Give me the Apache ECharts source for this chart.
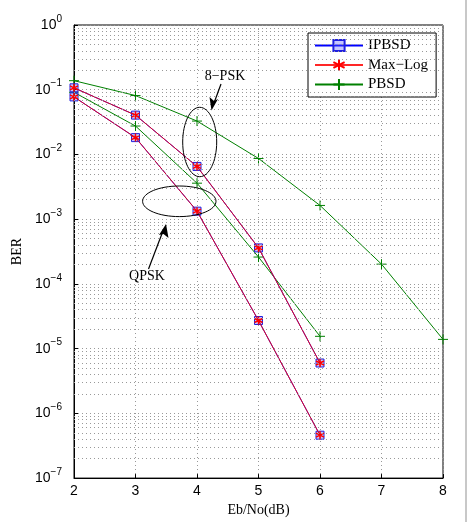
<!DOCTYPE html>
<html>
<head>
<meta charset="utf-8">
<script src="https://cdn.jsdelivr.net/npm/echarts@6/dist/echarts.min.js"></script>
<style>
  html, body { margin: 0; padding: 0; background: #fff; }
  #main { width: 470px; height: 522px; }
</style>
</head>
<body>
<div id="main"></div>
<script>
// Eb/No points (dB)
var snrShort = [2, 3, 4, 5, 6];
var snrLong = [2, 3, 4, 5, 6, 7, 8];

// BER
var ipbsd8psk = [0.107, 0.0405, 0.00653, 3.6e-4, 6.0e-6];
var ipbsdQpsk = [0.0775, 0.0182, 1.33e-3, 2.72e-5, 4.6e-7];
var maxlog8psk = [0.107, 0.0405, 0.00653, 3.6e-4, 6.0e-6];
var maxlogQpsk = [0.0775, 0.0182, 1.33e-3, 2.72e-5, 4.6e-7];
var pbsd8psk = [0.138, 0.0813, 0.0328, 8.67e-3, 1.63e-3, 2.02e-4, 1.39e-5];
var pbsdQpsk = [0.0914, 0.0275, 3.6e-3, 2.6e-4, 1.55e-5];

var seriesNames = ['IPBSD', 'Max\u2212Log', 'PBSD'];
var yDecades = [-7, -6, -5, -4, -3, -2, -1];
var minorSteps = [2, 3, 4, 5, 6, 7, 8, 9];

var serif = 'Liberation Serif';
var sans = 'Liberation Sans';
var asterisk = 'path://M0,-5L0,5M-4.5,-2.5L4.5,2.5M-4.5,2.5L4.5,-2.5';
var plus = 'path://M0,-5L0,5M-5,0L5,0';
var dots = { color: '#999', type: [1, 3], width: 1 };

function pairs(xs, ys) {
    var out = [];
    for (var i = 0; i < ys.length; i++) {
        out.push([xs[i], ys[i]]);
    }
    return out;
}

// minor log grid (2..9 in each decade), drawn from x=2 to x=8
var minorLines = [];
for (var d = 0; d < yDecades.length; d++) {
    for (var k = 0; k < minorSteps.length; k++) {
        var v = minorSteps[k] * Math.pow(10, yDecades[d]);
        minorLines.push([{ coord: [2, v] }, { coord: [8, v] }]);
    }
}

function ipbsdSeries(data) {
    return {
        name: seriesNames[0], type: 'line', data: data, z: 3,
        symbol: 'rect', symbolSize: 8,
        lineStyle: { color: '#0000ff', width: 1 },
        itemStyle: { color: 'rgba(90,90,255,0.35)', borderColor: '#2020e0', borderWidth: 1 }
    };
}
function maxlogSeries(data) {
    return {
        name: seriesNames[1], type: 'line', data: data, z: 4,
        symbol: asterisk, symbolSize: 8,
        lineStyle: { color: '#ff0000', width: 1, opacity: 0.85 },
        itemStyle: { color: '#ff0000', borderColor: '#ff0000', borderWidth: 1.5 }
    };
}
function pbsdSeries(data) {
    return {
        name: seriesNames[2], type: 'line', data: data, z: 2,
        symbol: plus, symbolSize: 10,
        lineStyle: { color: '#008000', width: 1 },
        itemStyle: { color: '#008000', borderColor: '#008000', borderWidth: 1 }
    };
}

var myChart = echarts.init(document.getElementById('main'));
var option = {
    animation: false,
    backgroundColor: '#fff',
    grid: {
        left: 74, right: 27, top: 25, bottom: 41,
        show: true, borderColor: '#000', borderWidth: 1
    },
    legend: {
        data: seriesNames,
        orient: 'vertical',
        left: 308, top: 33,
        padding: [5, 8, 5, 6],
        itemWidth: 48, itemHeight: 14, itemGap: 4.5,
        backgroundColor: '#fff',
        borderColor: '#000', borderWidth: 1,
        textStyle: { fontFamily: serif, fontSize: 15, color: '#000' }
    },
    xAxis: {
        type: 'value', min: 2, max: 8, interval: 1,
        name: 'Eb/No(dB)', nameLocation: 'middle', nameGap: 23,
        nameTextStyle: { fontFamily: serif, fontSize: 14, color: '#000' },
        axisLine: { lineStyle: { color: '#000' } },
        axisTick: { inside: true, length: 4, lineStyle: { color: '#000' } },
        axisLabel: { fontFamily: sans, fontSize: 14, color: '#000', margin: 6 },
        splitLine: { show: true, lineStyle: dots }
    },
    yAxis: {
        type: 'log', logBase: 10, min: 1e-7, max: 1, interval: 1,
        name: 'BER', nameLocation: 'middle', nameGap: 46,
        nameTextStyle: { fontFamily: serif, fontSize: 14, color: '#000' },
        axisLine: { show: true, lineStyle: { color: '#000' } },
        axisTick: { inside: true, length: 4, lineStyle: { color: '#000' } },
        axisLabel: {
            margin: 12,
            formatter: function (v) {
                var e = Math.round(Math.log(v) / Math.LN10);
                return '{b|10}{s|' + (e < 0 ? '\u2212' + (-e) : e) + '}';
            },
            rich: {
                b: { fontFamily: sans, fontSize: 14, color: '#000' },
                s: { fontFamily: sans, fontSize: 10, color: '#000', verticalAlign: 'bottom', padding: [0, 0, 12, 0] }
            }
        },
        splitLine: { show: true, lineStyle: dots }
    },
    series: [
        {
            name: 'grid', type: 'line', data: [], silent: true, z: 1,
            markLine: {
                silent: true, symbol: 'none', precision: 12, label: { show: false },
                lineStyle: dots,
                data: minorLines
            }
        },
        pbsdSeries(pairs(snrLong, pbsd8psk)),
        pbsdSeries(pairs(snrShort, pbsdQpsk)),
        ipbsdSeries(pairs(snrShort, ipbsd8psk)),
        ipbsdSeries(pairs(snrShort, ipbsdQpsk)),
        maxlogSeries(pairs(snrShort, maxlog8psk)),
        maxlogSeries(pairs(snrShort, maxlogQpsk))
    ],
    graphic: [
        // image frame on the right
        { type: 'rect', shape: { x: 465, y: 0, width: 2, height: 522 }, style: { fill: '#c8c8c8' }, silent: true },
        // 8-PSK annotation
        { type: 'ellipse', shape: { cx: 199.7, cy: 142, rx: 17, ry: 34.7 }, style: { fill: 'none', stroke: '#000', lineWidth: 1 }, z: 10 },
        { type: 'line', shape: { x1: 221, y1: 84, x2: 214, y2: 103 }, style: { stroke: '#000', lineWidth: 1.2 }, z: 10 },
        { type: 'polygon', shape: { points: [[211.5, 110.5], [209.5, 97], [214, 101], [218, 99]] }, style: { fill: '#000' }, z: 10 },
        { type: 'text', x: 225, y: 76, style: { text: '8\u2212PSK', fontFamily: serif, fontSize: 14, fill: '#000', align: 'center', verticalAlign: 'middle' }, z: 10 },
        // QPSK annotation
        { type: 'ellipse', shape: { cx: 179.3, cy: 201.3, rx: 36.7, ry: 15.3 }, style: { fill: 'none', stroke: '#000', lineWidth: 1 }, z: 10 },
        { type: 'line', shape: { x1: 148.5, y1: 269, x2: 163, y2: 231 }, style: { stroke: '#000', lineWidth: 1.2 }, z: 10 },
        { type: 'polygon', shape: { points: [[166, 224], [168.5, 238], [163.5, 234], [159, 235]] }, style: { fill: '#000' }, z: 10 },
        { type: 'text', x: 147, y: 276, style: { text: 'QPSK', fontFamily: serif, fontSize: 14, fill: '#000', align: 'center', verticalAlign: 'middle' }, z: 10 }
    ]
};
myChart.setOption(option, true);
window.addEventListener('resize', function () {
    myChart.resize();
});
</script>
</body>
</html>
